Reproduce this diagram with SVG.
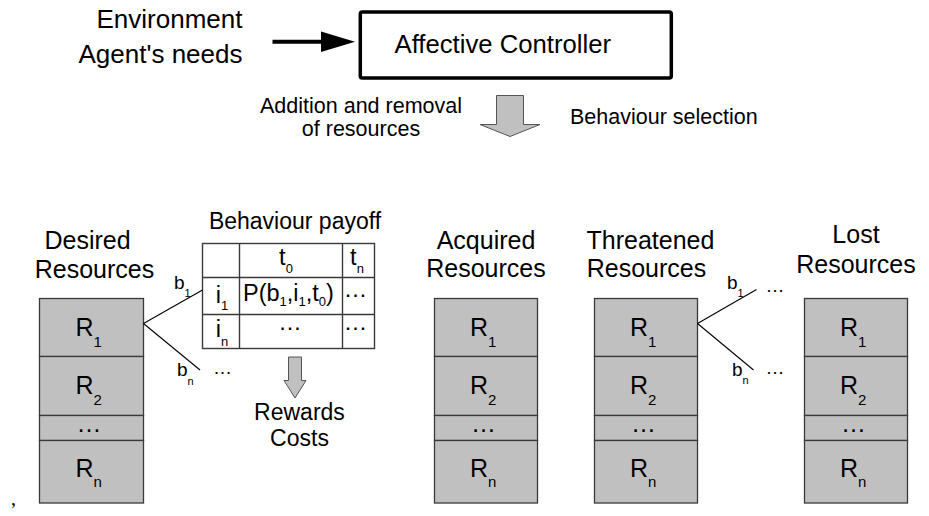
<svg xmlns="http://www.w3.org/2000/svg" width="929" height="516" viewBox="0 0 929 516">
  <style>
    text { font-family: "Liberation Sans", Arial, sans-serif; fill: #000; }
    .big { font-size: 25px; }
    .top { font-size: 26px; }
    .mid { font-size: 21.5px; }
    .tab { font-size: 23.5px; }
    .lbl { font-size: 19px; }
    .sub { font-size: 13px; }
    .rsub { font-size: 15px; }
    .ssub { font-size: 11px; }
    .cell { fill: #c0c0c0; stroke: #3a3a3a; stroke-width: 1.3; }
    .grid { fill: none; stroke: #3a3a3a; stroke-width: 1.4; }
    .branch { fill: none; stroke: #000; stroke-width: 1.1; }
    .block { fill: #c0c0c0; stroke: #555; stroke-width: 1; }
  </style>

  <!-- inputs and controller -->
  <g id="inputs">
    <text class="top" x="242.5" y="28" text-anchor="end">Environment</text>
    <text class="top" x="242.5" y="63" text-anchor="end">Agent's needs</text>
  </g>
  <g id="controller">
    <rect x="360.3" y="12" width="311" height="66" rx="2" fill="#fff" stroke="#000" stroke-width="3.5"/>
    <text x="394.5" y="53" style="font-size:25.7px">Affective Controller</text>
  </g>
  <g id="controller-output">
    <polygon class="block" points="496.5,95.5 523.5,95.5 523.5,124.5 540,124.5 510,136.5 480,124.5 496.5,124.5"/>
    <text class="mid" x="361" y="113" text-anchor="middle">Addition and removal</text>
    <text class="mid" x="361" y="136" text-anchor="middle">of resources</text>
    <text class="mid" x="570" y="124">Behaviour selection</text>
  </g>

  <!-- resource stacks -->
  <g id="desired">
    <text class="big" x="87.5" y="248.5" text-anchor="middle">Desired</text>
    <text class="big" x="94.5" y="278" text-anchor="middle">Resources</text>
    <rect class="cell" x="39.5" y="298.5" width="104" height="58"/>
    <rect class="cell" x="39.5" y="356.5" width="104" height="59"/>
    <rect class="cell" x="39.5" y="415.5" width="104" height="25"/>
    <rect class="cell" x="39.5" y="440.5" width="104" height="62.5"/>
    <text class="big" x="75.5" y="336">R<tspan class="rsub" dy="10.5">1</tspan></text>
    <text class="big" x="75.5" y="394">R<tspan class="rsub" dy="11">2</tspan></text>
    <text class="big" x="89" y="432" text-anchor="middle">…</text>
    <text class="big" x="75.5" y="477">R<tspan class="rsub" dy="10">n</tspan></text>
  </g>

  <g id="acquired">
    <text class="big" x="486" y="249" text-anchor="middle">Acquired</text>
    <text class="big" x="486" y="277" text-anchor="middle">Resources</text>
    <rect class="cell" x="434.5" y="298.5" width="103" height="58"/>
    <rect class="cell" x="434.5" y="356.5" width="103" height="59"/>
    <rect class="cell" x="434.5" y="415.5" width="103" height="25"/>
    <rect class="cell" x="434.5" y="440.5" width="103" height="62.5"/>
    <text class="big" x="470" y="336">R<tspan class="rsub" dy="10.5">1</tspan></text>
    <text class="big" x="470" y="394">R<tspan class="rsub" dy="11">2</tspan></text>
    <text class="big" x="483.5" y="432" text-anchor="middle">…</text>
    <text class="big" x="470" y="477">R<tspan class="rsub" dy="10">n</tspan></text>
  </g>

  <g id="threatened">
    <text class="big" x="650.5" y="249" text-anchor="middle">Threatened</text>
    <text class="big" x="646.5" y="277" text-anchor="middle">Resources</text>
    <rect class="cell" x="594.5" y="298.5" width="103" height="58"/>
    <rect class="cell" x="594.5" y="356.5" width="103" height="59"/>
    <rect class="cell" x="594.5" y="415.5" width="103" height="25"/>
    <rect class="cell" x="594.5" y="440.5" width="103" height="62.5"/>
    <text class="big" x="630" y="336">R<tspan class="rsub" dy="10.5">1</tspan></text>
    <text class="big" x="630" y="394">R<tspan class="rsub" dy="11">2</tspan></text>
    <text class="big" x="643.5" y="432" text-anchor="middle">…</text>
    <text class="big" x="630" y="477">R<tspan class="rsub" dy="10">n</tspan></text>
  </g>

  <g id="lost">
    <text class="big" x="856" y="243" text-anchor="middle">Lost</text>
    <text class="big" x="856" y="273" text-anchor="middle">Resources</text>
    <rect class="cell" x="804.5" y="298.5" width="103" height="58"/>
    <rect class="cell" x="804.5" y="356.5" width="103" height="59"/>
    <rect class="cell" x="804.5" y="415.5" width="103" height="25"/>
    <rect class="cell" x="804.5" y="440.5" width="103" height="62.5"/>
    <text class="big" x="840" y="336">R<tspan class="rsub" dy="10.5">1</tspan></text>
    <text class="big" x="840" y="394">R<tspan class="rsub" dy="11">2</tspan></text>
    <text class="big" x="853.5" y="432" text-anchor="middle">…</text>
    <text class="big" x="840" y="477">R<tspan class="rsub" dy="10">n</tspan></text>
  </g>

  <!-- payoff table -->
  <g id="payoff">
    <text x="295" y="229" text-anchor="middle" style="font-size:23px">Behaviour payoff</text>
    <rect x="202.5" y="243.5" width="172" height="105" fill="#fff" class="grid"/>
    <line class="grid" x1="239.5" y1="243.5" x2="239.5" y2="348.5"/>
    <line class="grid" x1="342.5" y1="243.5" x2="342.5" y2="348.5"/>
    <line class="grid" x1="202.5" y1="277.5" x2="374.5" y2="277.5"/>
    <line class="grid" x1="202.5" y1="314.5" x2="374.5" y2="314.5"/>
    <text class="tab" x="286" y="265" text-anchor="middle">t<tspan class="sub" dy="8">0</tspan></text>
    <text class="tab" x="357" y="265" text-anchor="middle">t<tspan class="sub" dy="8">n</tspan></text>
    <text class="tab" x="222" y="303" text-anchor="middle">i<tspan class="sub" dy="7">1</tspan></text>
    <text class="tab" x="222" y="337" text-anchor="middle">i<tspan class="sub" dy="9">n</tspan></text>
    <text class="tab" x="243" y="301">P(b<tspan class="sub" dy="5">1</tspan><tspan dy="-5">,i</tspan><tspan class="sub" dy="5">1</tspan><tspan dy="-5">,t</tspan><tspan class="sub" dy="5">0</tspan><tspan dy="-5">)</tspan></text>
    <text class="tab" x="355.5" y="297" text-anchor="middle">…</text>
    <text class="tab" x="290" y="330" text-anchor="middle">…</text>
    <text class="tab" x="355.5" y="330" text-anchor="middle">…</text>
  </g>

  <g id="outcome">
    <polygon class="block" points="288.5,357 301.5,357 301.5,380.5 306,380.5 295,398 284,380.5 288.5,380.5"/>
    <text x="299.5" y="420" text-anchor="middle" style="font-size:23px">Rewards</text>
    <text x="299.5" y="446" text-anchor="middle" style="font-size:23px">Costs</text>
  </g>

  <!-- behaviour branches and input arrow -->
  <g id="connectors">
    <line class="branch" x1="143.5" y1="323.5" x2="202.5" y2="290"/>
    <line class="branch" x1="143.5" y1="323.5" x2="200" y2="370"/>
    <line class="branch" x1="697.5" y1="323.5" x2="756.5" y2="289.5"/>
    <line class="branch" x1="697.5" y1="323.5" x2="753.5" y2="370"/>
    <line x1="272.5" y1="41.7" x2="323" y2="41.7" stroke="#000" stroke-width="4"/>
    <polygon points="321,31.5 355,41.7 321,52" fill="#000"/>
  </g>

  <g id="branch-labels">
    <text class="lbl" x="174" y="289">b<tspan class="ssub" dy="7.5">1</tspan></text>
    <text class="lbl" x="177" y="376">b<tspan class="ssub" dy="9">n</tspan></text>
    <text class="lbl" x="222.5" y="374" text-anchor="middle">…</text>
    <text class="lbl" x="727" y="289">b<tspan class="ssub" dy="7.5">1</tspan></text>
    <text class="lbl" x="775" y="292" text-anchor="middle">…</text>
    <text class="lbl" x="732" y="376">b<tspan class="ssub" dy="8">n</tspan></text>
    <text class="lbl" x="775" y="374" text-anchor="middle">…</text>
  </g>

  <text x="11" y="505" style="font-family:'Liberation Serif', 'Times New Roman', serif; font-size:20px">,</text>
</svg>
